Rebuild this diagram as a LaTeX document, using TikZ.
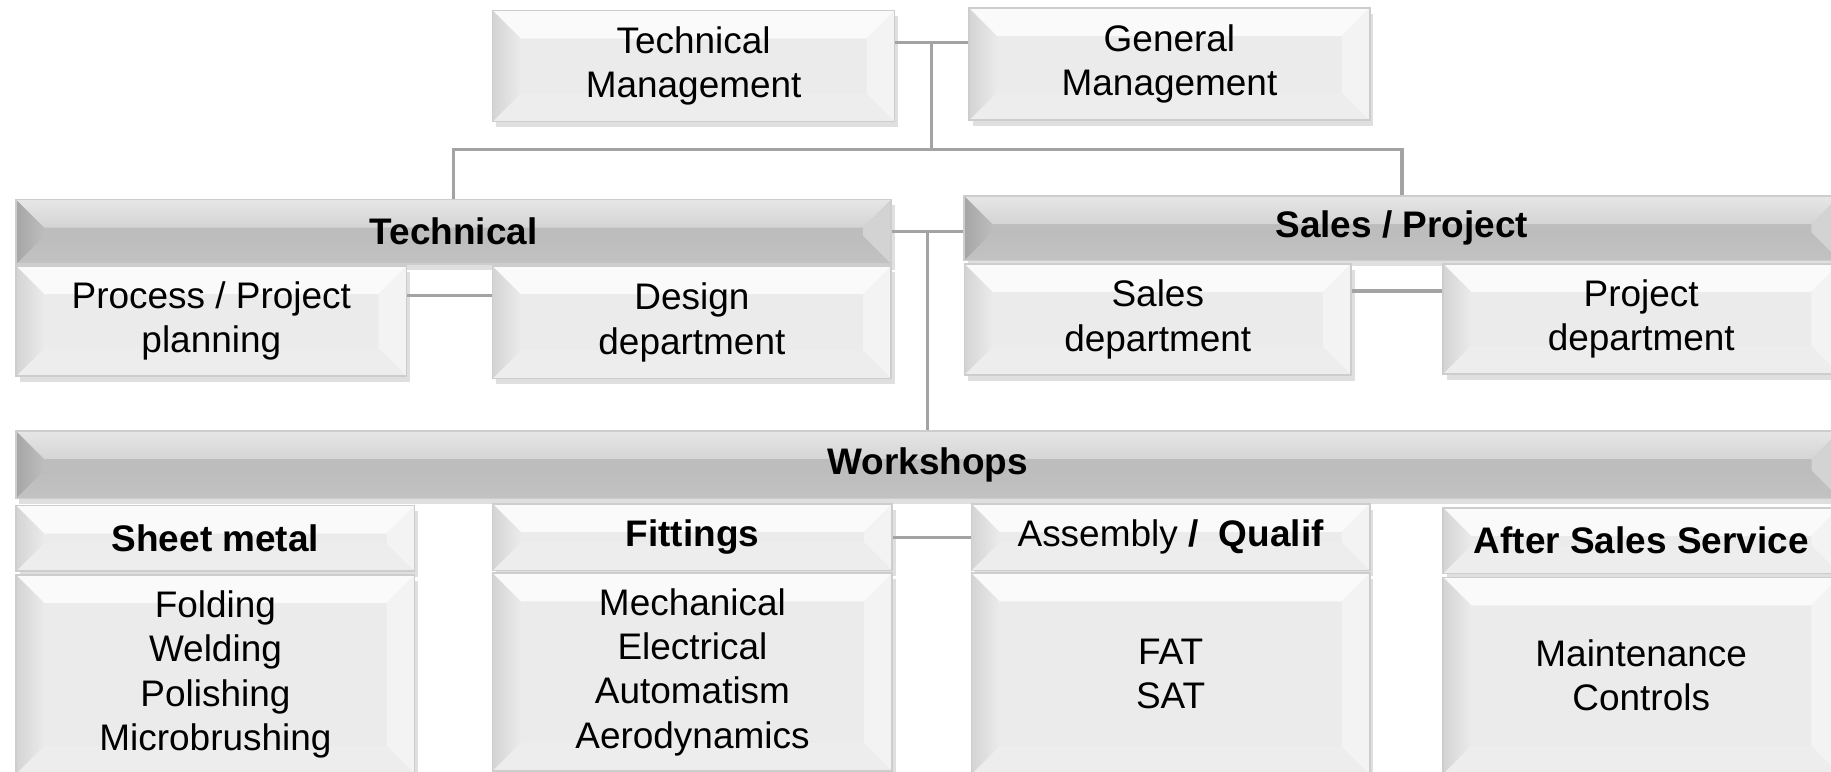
\documentclass[tikz,border=0pt]{standalone}
\usepackage{fontspec}
\setmainfont{Liberation Sans}
\usetikzlibrary{positioning,calc,shadows}

\definecolor{boxbase}{HTML}{EBEBEB}
\definecolor{boxtop}{HTML}{FAFAFA}
\definecolor{boxleft}{HTML}{D4D4D4}
\definecolor{boxright}{HTML}{F3F3F3}
\definecolor{boxbot}{HTML}{EDEDED}
\definecolor{boxline}{HTML}{CDCDCD}
\definecolor{barbase}{HTML}{BDBDBD}
\definecolor{bartop}{HTML}{E6E6E6}
\definecolor{barleft}{HTML}{A6A6A6}
\definecolor{barright}{HTML}{D3D3D3}
\definecolor{barbot}{HTML}{C2C2C2}
\definecolor{connline}{HTML}{A3A3A3}

\begin{document}
\begin{tikzpicture}[x=0.01cm, y=-0.01cm, node distance=0.02cm,
			bevel/.style n args={5}{fill=#1, draw=boxline, line width=0.4pt,
				path picture={
					\path[#2] (path picture bounding box.north west) -- (path picture bounding box.north east)
						-- ([shift={(-2.4mm,-2.4mm)}]path picture bounding box.north east)
						-- ([shift={(2.4mm,-2.4mm)}]path picture bounding box.north west) -- cycle;
					\path[#5] (path picture bounding box.south west) -- ([shift={(2.4mm,2.4mm)}]path picture bounding box.south west)
						-- ([shift={(-2.4mm,2.4mm)}]path picture bounding box.south east) -- (path picture bounding box.south east) -- cycle;
					\path[#3] (path picture bounding box.north west) -- ([shift={(2.4mm,-2.4mm)}]path picture bounding box.north west)
						-- ([shift={(2.4mm,2.4mm)}]path picture bounding box.south west) -- (path picture bounding box.south west) -- cycle;
					\path[#4] (path picture bounding box.north east) -- ([shift={(-2.4mm,-2.4mm)}]path picture bounding box.north east)
						-- ([shift={(-2.4mm,2.4mm)}]path picture bounding box.south east) -- (path picture bounding box.south east) -- cycle;
				}},
			box/.style={bevel={boxbase}{fill=boxtop}{left color=boxleft, right color=boxbase}{fill=boxright}{fill=boxbot},
				minimum width=3.41cm, minimum height=0.95cm, align=center, inner sep=1pt,
				font=\fontsize{9}{10.8}\selectfont,
				drop shadow={shadow xshift=0.3mm, shadow yshift=-0.5mm, opacity=0.25}},
			header/.style={box, minimum height=0.56cm, font=\fontsize{9}{10.8}\selectfont\bfseries},
			body/.style={box, minimum height=1.70cm},
			bar/.style={bevel={barbase}{top color=bartop, bottom color=barbase}{left color=barleft, right color=barbase}{fill=barright}{top color=barbase, bottom color=barbot},
				minimum width=7.49cm, minimum height=0.55cm, inner sep=1pt,
				font=\fontsize{9}{10.8}\selectfont\bfseries,
				drop shadow={shadow xshift=0.3mm, shadow yshift=-0.5mm, opacity=0.25}},
			conn/.style={draw=connline, line width=0.8pt}]
			\useasboundingbox (0,0) rectangle (1568,661);
			\clip (0,0) rectangle (1568,661);
			
			% management
			\node[box, minimum width=3.44cm] (tm) at (594,56.5) {Technical\\Management};
			\node[box, minimum width=3.43cm, minimum height=0.96cm] (gm) at (1001.5,55) {General\\Management};
			
			% technical and sales
			\node[bar] (tech) at (388.5,198.5) {Technical};
			\node[bar] (sales) at (1200.5,195.5) {Sales / Project};
			\node[box, minimum width=3.34cm, minimum height=0.94cm] (proc) at (181,275) {Process / Project\\planning};
			\node[box, minimum height=0.96cm] (design) at (592.5,276) {Design\\department};
			\node[box, minimum width=3.31cm] (salesdep) at (991.5,273.5) {Sales\\department};
			\node[box, minimum width=3.39cm, minimum height=0.94cm] (projdep) at (1405.5,273) {Project\\department};
			
			% workshops
			\node[bar, minimum width=15.61cm, minimum height=0.58cm] (work) at (794.5,398) {Workshops};
			\node[header] (sheet) at (184.5,461) {Sheet metal};
			\node[body, below=of sheet] (sheetbody) {Folding\\Welding\\Polishing\\Microbrushing};
			\node[header, minimum width=3.42cm, minimum height=0.57cm] (fit) at (593,460) {Fittings};
			\node[body, minimum width=3.42cm, minimum height=1.69cm, below=0.01cm of fit] (fitbody) {Mechanical\\Electrical\\Automatism\\Aerodynamics};
			\node[header, minimum height=0.57cm, font=\fontsize{9}{10.8}\selectfont] (asm) at (1002.5,460) {Assembly \textbf{/\ \ Qualif}};
			\node[body, minimum height=1.72cm, below=0.01cm of asm] (asmbody) {FAT\\SAT};
			\node[header, minimum width=3.39cm] (after) at (1405.5,463) {After Sales Service};
			\node[body, minimum width=3.39cm, minimum height=1.68cm, below=of after] (afterbody) {Maintenance\\Controls};
			
			% connectors
			\coordinate (tmj) at ([yshift=-2.8mm]tm.north east);
			\draw[conn] (tmj) -- (tmj -| gm.west);
			\coordinate (mgmt) at ($(tmj)!0.5!(tmj -| gm.west)$);
			\coordinate (hub) at ([yshift=4.2mm]mgmt |- tech.north);
			\draw[conn] (mgmt) -- (hub);
			\draw[conn] (tech.north) |- (hub) -| (sales.north);
			\draw[conn] (tech.east) -- (tech.east -| sales.west);
			\coordinate (wsj) at ($(tech.east)!0.5!(tech.east -| sales.west)$);
			\draw[conn] (wsj) -- (wsj |- work.north);
			\coordinate (pdj) at ([yshift=-2.6mm]proc.north east);
			\draw[conn] (pdj) -- (pdj -| design.west);
			\coordinate (spj) at ([yshift=-2.4mm]salesdep.north east);
			\draw[conn] (spj) -- (spj -| projdep.west);
			\draw[conn] (fit.east) -- (fit.east -| asm.west);
		\end{tikzpicture}
\end{document}
